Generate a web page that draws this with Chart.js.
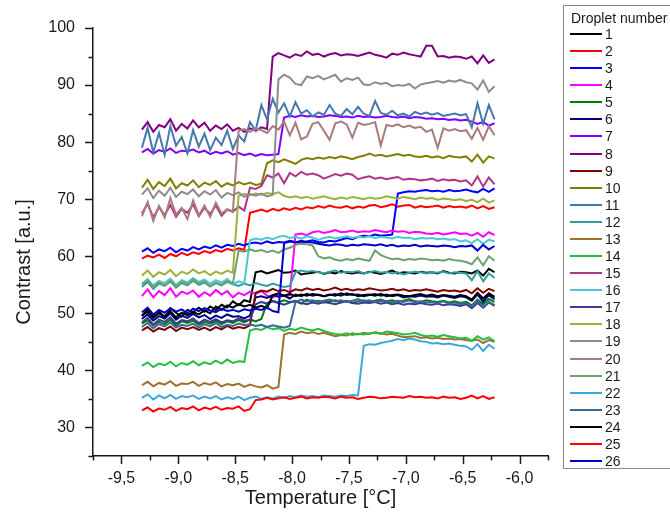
<!DOCTYPE html>
<html>
<head>
<meta charset="utf-8">
<script src="https://cdn.jsdelivr.net/npm/chart.js@4"></script>
<style>
  html, body { margin: 0; padding: 0; background: #fff; overflow: hidden; width: 670px; height: 522px; }
  #wrap { position: relative; width: 670px; height: 522px; overflow: hidden; }
  #c { position: absolute; left: 0; top: 0; }
  #legend { position: absolute; left: 563px; top: 5px; width: 140px; height: 462px; border: 1px solid #8a8a8a; background: #fff; font-family: "Liberation Sans", Arial, sans-serif; color: #1a1a1a; }
  #legend .ttl { position: absolute; left: 7px; top: 3px; font-size: 14px; line-height: 18px; white-space: nowrap; }
  #legend .row { position: absolute; left: 6px; height: 17px; display: flex; align-items: center; font-size: 14px; }
  #legend .sw { width: 32px; height: 2px; margin-right: 3px; }
</style>
</head>
<body>
<div id="wrap">
  <canvas id="c" width="670" height="522"></canvas>
  <div id="legend"></div>
</div>
<script>
// Temperature grid (°C)
const temps = [
  -9.32, -9.27, -9.22, -9.17, -9.12, -9.07, -9.02, -8.97, -8.92, -8.87,
  -8.82, -8.77, -8.72, -8.67, -8.62, -8.57, -8.52, -8.47, -8.42, -8.37,
  -8.32, -8.27, -8.22, -8.17, -8.12, -8.07, -8.02, -7.97, -7.92, -7.87,
  -7.82, -7.77, -7.72, -7.67, -7.62, -7.57, -7.52, -7.47, -7.42, -7.37,
  -7.32, -7.27, -7.22, -7.17, -7.12, -7.07, -7.02, -6.97, -6.92, -6.87,
  -6.82, -6.77, -6.72, -6.67, -6.62, -6.57, -6.52, -6.47, -6.42, -6.37,
  -6.32, -6.27, -6.22
];

const droplet1 = [
  49.5, 50.8, 49.6, 50.4, 49.2, 50.9, 50.1, 49.4, 50.6, 50.2,
  51.0, 50.3, 51.2, 50.6, 51.5, 51.0, 52.1, 51.4, 52.3, 52.0,
  57.2, 57.4, 57.0, 57.3, 57.6, 57.1, 57.2, 57.5, 56.8, 57.0,
  57.1, 57.3, 56.9, 57.2, 57.0, 57.4, 57.1, 57.0, 57.2, 57.0,
  57.3, 57.1, 56.9, 57.2, 57.5, 57.0, 57.2, 57.1, 57.0, 57.3,
  57.1, 57.2, 57.0, 57.4, 57.1, 57.0, 57.3, 57.2, 57.0, 57.5,
  56.6, 57.8, 57.2
];
const droplet2 = [
  59.6, 60.1, 59.8, 60.3, 59.7, 60.4, 60.0, 60.6, 60.2, 60.7,
  60.4, 60.9, 60.6, 61.1, 60.8, 61.3, 61.0, 61.4, 61.1, 67.6,
  67.9, 68.2, 67.8, 68.3, 68.0, 68.4, 68.1, 68.5, 68.2, 68.6,
  68.4, 68.8, 68.5, 68.9, 68.6, 68.5, 68.8, 68.4, 68.7, 68.5,
  68.9, 69.0, 68.6, 68.8, 69.1, 68.7, 68.9, 69.0, 68.5, 68.8,
  68.6, 68.7, 68.9, 68.5, 68.8, 68.6, 68.7, 68.5, 68.9, 68.4,
  68.8, 68.3, 68.6
];
const droplet3 = [
  60.8, 61.4, 60.6, 61.2, 60.9, 61.5, 60.7, 61.3, 61.0, 61.6,
  61.2, 61.7, 61.4, 61.9, 61.5, 62.0, 61.8, 62.2, 61.9, 62.3,
  62.4, 62.2, 62.6, 62.3, 62.5, 62.4, 62.7, 62.5, 62.3, 62.6,
  62.8, 62.5, 62.4, 62.7, 62.6, 62.9, 63.2, 63.0, 63.4, 63.6,
  63.5, 63.8, 63.6, 63.7, 63.8, 71.0, 71.2, 71.4, 71.3, 71.5,
  71.6, 71.4, 71.5, 71.3, 71.6, 71.4, 71.5, 71.7, 71.4, 71.2,
  71.8, 71.3, 71.9
];
const droplet4 = [
  53.0, 54.2, 52.8, 53.9, 53.2, 54.4, 52.9, 53.8, 53.4, 54.0,
  52.9, 53.7, 53.1, 54.1, 53.3, 53.9, 52.8, 53.6, 53.2, 53.8,
  53.4, 53.9, 53.1, 52.8, 53.3, 53.0, 53.2, 63.8, 64.0, 63.7,
  64.2, 64.4, 64.1, 64.3, 64.6, 64.2, 64.3, 64.5, 64.2, 64.4,
  64.3, 64.6, 64.4, 64.2, 64.5, 64.3, 64.4, 64.1, 64.3, 64.2,
  64.0, 63.9, 64.1, 63.8, 64.0, 64.2, 63.9, 64.0, 63.6, 64.1,
  63.4, 64.2, 63.7
];
const droplet5 = [
  48.2, 48.8, 47.9, 48.5, 48.1, 48.9, 47.8, 48.6, 48.3, 48.7,
  48.0, 48.5, 48.2, 48.7, 48.1, 48.6, 48.3, 48.8, 48.4, 48.9,
  48.6, 49.0, 51.8, 52.2, 51.9, 52.3, 52.0, 52.1, 51.7, 52.4,
  52.0, 52.2, 51.9, 52.1, 52.3, 52.0, 52.2, 51.8, 52.1, 52.3,
  52.0, 52.2, 52.4, 52.1, 52.3, 52.0, 52.2, 52.5, 52.1, 52.0,
  52.3, 52.1, 52.0, 52.2, 51.9, 52.1, 51.8, 52.0, 51.4, 52.4,
  51.6, 52.5, 52.0
];
const droplet6 = [
  49.0, 49.8, 48.7, 49.5, 49.1, 50.0, 48.9, 49.6, 49.2, 49.9,
  49.3, 49.7, 49.0, 49.6, 49.2, 49.8, 49.4, 49.5, 49.1, 49.6,
  52.8, 53.0, 52.7, 53.2, 52.9, 53.1, 52.6, 53.3, 53.0, 53.4,
  53.1, 53.3, 53.0, 53.2, 53.4, 53.1, 53.5, 53.2, 53.3, 53.0,
  53.2, 53.4, 53.1, 53.3, 53.0, 53.2, 52.8, 53.0, 52.9, 53.1,
  52.9, 53.0, 52.8, 53.1, 52.9, 52.7, 53.0, 52.8, 52.2, 53.3,
  52.0, 53.2, 52.5
];
const droplet7 = [
  78.2, 78.8, 78.0, 78.6, 78.3, 78.9, 78.1, 78.5, 78.4, 78.7,
  78.2, 78.5, 77.9, 78.3, 78.0, 78.4, 77.8, 78.1, 77.7, 78.0,
  77.6, 77.9, 77.7, 77.8, 77.9, 84.3, 84.6, 84.4, 84.7, 84.5,
  84.6, 84.4, 84.5, 84.7, 84.6, 84.4, 84.5, 84.3, 84.6, 84.4,
  84.5, 84.3, 84.4, 84.6, 84.4, 84.3, 84.5, 84.2, 84.4, 84.3,
  84.1, 84.2, 84.0, 84.1, 83.9, 84.0, 83.8, 83.9, 83.6, 83.2,
  83.5, 82.9, 83.3
];
const droplet8 = [
  82.2, 83.5, 81.8, 83.0, 82.6, 84.0, 82.0, 83.2, 82.4, 83.8,
  82.6, 83.4, 82.0, 82.9, 82.3, 83.1, 82.0, 82.5, 81.8, 82.4,
  82.0, 82.6, 82.3, 95.0, 95.6, 95.2, 94.8, 95.4, 95.1, 95.9,
  95.3, 95.5, 95.0, 95.4, 95.6, 95.2, 95.4, 95.3, 95.1, 95.4,
  95.7, 95.3, 95.1, 94.8, 95.5, 95.3, 95.7, 95.4, 95.2, 95.0,
  96.9, 96.9, 95.0, 95.1, 94.8, 95.0, 94.9, 94.6, 95.0, 93.8,
  95.2, 93.9, 94.5
];
const droplet9 = [
  47.0, 47.6, 46.8, 47.4, 47.1, 47.7, 46.9, 47.5, 47.2, 47.6,
  47.1, 47.5, 47.0, 47.6, 47.2, 47.8, 47.3, 47.6, 47.4, 47.9,
  53.6, 54.0, 53.8, 54.3, 53.9, 54.1, 53.7, 54.2, 54.0, 54.4,
  54.1, 54.3, 54.0, 54.2, 54.5, 54.1, 54.3, 54.0, 54.2, 54.1,
  54.4, 54.2, 54.0, 54.1, 54.3, 54.0, 54.2, 53.9, 54.1, 54.0,
  54.2, 54.0, 53.8, 54.1, 53.9, 54.0, 53.8, 54.1, 53.5, 54.4,
  53.6, 54.3, 53.9
];
const droplet10 = [
  72.0, 73.4, 71.8, 73.0, 72.3, 73.6, 71.9, 72.8, 72.4, 73.3,
  72.1, 72.9, 72.5, 73.2, 72.2, 72.8, 72.4, 73.0, 72.6, 72.9,
  72.5, 72.7, 76.3, 76.8, 76.5, 77.0, 76.6, 76.2, 76.9, 77.2,
  77.0, 77.3, 77.1, 77.4, 77.2, 77.5, 77.3, 77.0, 77.4, 77.6,
  78.0, 77.6, 77.8, 77.5, 77.7, 77.9, 77.6, 77.8, 77.5, 77.4,
  77.6, 77.3, 77.5, 77.2, 77.6, 77.4, 77.3, 77.5, 76.6, 77.8,
  76.4, 77.5, 77.1
];
const droplet11 = [
  79.0, 82.5, 78.2, 81.6, 77.8, 82.8, 79.4, 80.9, 78.0, 82.1,
  79.2, 81.5, 78.6, 80.8, 79.5, 82.0, 78.8, 81.2, 80.1, 83.5,
  82.0, 86.5, 84.0, 87.6, 85.2, 86.8, 84.5, 87.0, 85.0, 85.6,
  84.5, 85.2, 84.8, 86.5, 85.0, 84.6, 85.8, 84.9, 86.2, 85.0,
  84.6, 87.2, 85.1, 84.8, 85.5, 84.7, 85.0, 84.5, 85.3, 84.9,
  85.2, 84.8, 85.1, 84.6, 84.8, 85.0, 84.7, 84.9, 82.6, 86.8,
  83.2, 86.5, 84.0
];
const droplet12 = [
  54.6, 55.5, 54.3, 55.2, 54.8, 55.6, 54.5, 55.3, 54.9, 55.7,
  55.0, 55.4, 54.7, 55.3, 54.9, 55.5, 55.1, 54.8, 55.2, 54.9,
  55.3, 55.0, 54.8, 55.2, 54.9, 54.6, 54.8, 57.2, 57.5, 57.3,
  57.4, 57.2, 57.0, 57.3, 57.5, 57.1, 57.3, 57.2, 57.4, 57.0,
  57.2, 57.4, 57.1, 57.3, 57.0, 57.2, 56.8, 57.1, 57.3, 57.2,
  57.0, 57.2, 57.1, 57.3, 57.0, 57.2, 57.1, 57.0, 55.8, 57.4,
  55.6, 57.0, 56.2
];
const droplet13 = [
  37.4, 38.0, 37.2, 37.8, 37.5, 38.1, 37.3, 37.7, 37.6, 38.0,
  37.3, 37.8, 37.5, 37.9, 37.2, 37.6, 37.4, 37.7, 37.1, 37.5,
  37.2, 37.0, 37.4, 36.8, 37.1, 46.3, 46.6, 46.4, 46.8, 46.5,
  46.7, 46.4, 46.6, 46.3, 46.0, 46.2, 46.1, 46.5, 46.3, 46.6,
  46.4, 46.7, 46.5, 46.3, 46.4, 46.1, 45.8, 45.9, 46.0, 45.7,
  45.8, 45.6, 45.7, 45.5, 45.6, 45.4, 45.5, 45.3, 45.2, 45.4,
  44.8, 45.3, 45.0
];
const droplet14 = [
  40.8, 41.4, 40.6, 41.2, 40.9, 41.5, 40.7, 41.3, 41.0, 41.6,
  40.9, 41.4, 41.1, 41.7, 41.2, 41.9, 41.3, 41.6, 41.5, 47.0,
  47.3, 47.1, 47.6, 47.2, 47.4, 46.9, 47.3, 47.1, 47.5, 47.2,
  47.0, 47.3, 46.9, 46.6, 46.4, 46.3, 46.5, 46.2, 46.4, 46.3,
  46.5, 46.6, 46.4, 46.8, 46.7, 46.5, 46.3, 46.4, 46.6, 46.2,
  46.0, 46.1, 45.9, 46.2, 46.0, 45.8, 45.6, 45.7, 45.2, 46.0,
  45.4, 45.8, 45.1
];
const droplet15 = [
  67.5, 69.2, 66.8, 68.6, 67.2, 69.0, 66.9, 68.3, 67.6, 69.1,
  67.0, 68.5, 67.4, 68.9, 67.1, 68.2, 67.8, 68.7, 68.0, 72.0,
  71.8, 72.3, 74.2, 73.8, 74.5, 72.8, 74.6, 74.0, 74.8, 74.3,
  74.5, 74.2, 73.6, 74.0, 74.4, 74.1, 74.5, 74.3, 73.5, 73.8,
  74.0, 73.6, 73.8, 73.5, 73.7, 73.9, 73.4, 73.6, 73.5, 73.3,
  73.4, 73.6, 73.2, 73.5, 73.3, 73.4, 73.1, 73.3, 72.4, 74.0,
  72.2, 73.8, 72.6
];
const droplet16 = [
  55.2, 56.0, 54.9, 55.7, 55.3, 56.1, 55.0, 55.8, 55.4, 56.2,
  55.5, 55.9, 55.2, 55.8, 55.4, 56.0, 55.1, 55.6, 55.3, 62.8,
  63.1, 62.9, 63.3, 63.0, 63.4, 63.6, 63.2, 63.4, 63.1, 63.5,
  63.3, 62.9, 63.2, 63.4, 63.1, 63.3, 63.5, 63.2, 63.4, 63.3,
  63.5, 63.2, 63.4, 63.3, 63.1, 63.4, 63.2, 63.3, 63.0, 63.2,
  63.1, 63.2, 63.0, 63.1, 62.9, 63.0, 62.6, 62.8, 62.3, 63.0,
  62.2, 62.9, 62.6
];
const droplet17 = [
  48.4, 49.2, 48.0, 48.9, 48.5, 49.3, 48.2, 48.8, 48.6, 49.1,
  48.3, 48.9, 48.5, 49.0, 48.4, 48.8, 48.6, 49.1, 48.7, 48.9,
  51.6, 52.0, 51.7, 52.1, 51.8, 51.5, 51.9, 52.2, 51.8, 51.6,
  51.9, 51.7, 52.0, 51.8, 51.6, 51.9, 52.1, 51.8, 51.7, 51.9,
  51.8, 52.0, 51.7, 51.9, 51.6, 51.8, 51.5, 51.7, 51.6, 51.8,
  51.6, 51.5, 51.7, 51.4, 51.6, 51.5, 51.3, 51.6, 50.9, 51.8,
  51.0, 51.9, 51.3
];
const droplet18 = [
  56.6, 57.5, 56.4, 57.2, 56.8, 57.6, 56.5, 57.3, 56.9, 57.7,
  57.0, 57.4, 56.7, 57.3, 56.9, 57.5, 57.1, 70.6, 70.9, 70.7,
  71.0, 70.8, 71.1, 70.9, 71.2, 70.6, 70.3, 70.5, 70.2, 70.4,
  70.1, 70.3, 70.5, 70.2, 70.0, 70.3, 70.1, 70.4, 70.2, 70.0,
  70.3, 70.1, 70.2, 70.5, 70.3, 70.1, 70.4, 70.2, 70.0, 70.3,
  70.1, 70.2, 69.9, 70.1, 70.0, 69.8, 70.0, 69.7, 69.9, 69.5,
  70.1, 69.4, 69.8
];
const droplet19 = [
  70.8, 71.9, 70.2, 71.5, 70.6, 72.0, 70.4, 71.3, 70.9, 71.7,
  70.5, 71.4, 70.8, 71.6, 70.3, 71.1, 70.7, 71.2, 70.4, 70.9,
  70.6, 71.0, 70.5, 70.8, 91.0, 91.8, 91.3, 90.2, 90.0, 91.5,
  91.2, 91.6, 91.0, 91.4, 91.8, 90.6, 91.2, 90.9, 91.3, 90.1,
  90.0, 90.5, 90.2, 90.4, 89.8, 90.0, 89.9, 90.2, 89.4, 90.1,
  90.3, 90.5, 90.7, 90.4, 90.8, 90.6, 90.9, 90.5, 90.3, 89.2,
  90.8, 88.8, 89.8
];
const droplet20 = [
  67.0, 69.5, 66.2, 68.8, 66.8, 70.2, 67.3, 68.5, 66.5, 69.8,
  67.2, 68.9, 66.9, 69.4, 67.5, 68.2, 67.9, 82.0, 82.3, 81.8,
  82.4, 82.1, 81.6, 82.8, 82.2, 83.6, 81.2, 83.4, 80.5, 81.0,
  83.2, 83.5, 82.0, 80.4, 83.3, 83.6, 83.1, 80.8, 83.4, 83.0,
  83.2, 83.5, 79.4, 83.0, 82.8, 83.1, 82.6, 82.9, 82.5, 82.7,
  81.8, 82.2, 79.0, 82.4, 82.0, 82.3, 81.9, 82.1, 80.6, 82.5,
  80.4, 82.8, 81.2
];
const droplet21 = [
  55.0, 55.8, 54.6, 55.4, 54.9, 55.7, 54.7, 55.5, 55.1, 55.9,
  55.2, 55.6, 54.8, 55.4, 55.0, 55.7, 55.3, 61.0, 60.8, 61.2,
  60.9, 61.1, 60.7, 61.0, 60.6, 61.2, 61.5, 62.0, 62.2, 62.1,
  61.9, 60.0, 59.6, 59.8, 59.4, 59.2, 59.5, 59.3, 59.6, 59.4,
  59.2, 61.0, 60.2, 59.8, 59.5, 59.6, 59.3, 59.5, 59.4, 59.6,
  59.5, 59.3, 59.4, 59.2, 59.5, 59.3, 59.2, 59.0, 58.6, 59.8,
  58.4, 60.0, 59.2
];
const droplet22 = [
  35.2, 35.8, 34.9, 35.6, 35.1, 35.7, 35.0, 35.5, 35.3, 35.6,
  35.0, 35.4, 35.1, 35.5, 34.9, 35.3, 35.0, 35.4, 34.8, 35.2,
  35.4, 35.0, 35.3, 35.1, 35.4, 35.2, 35.5, 35.3, 35.6, 35.4,
  35.5, 35.3, 35.6, 35.5, 35.4, 35.6, 35.5, 35.7, 35.6, 44.3,
  44.6, 44.5, 44.8, 45.0, 45.2, 45.5, 45.3, 45.6, 45.4, 45.1,
  45.0, 44.7, 44.8, 44.6, 44.7, 44.5, 44.3, 44.2, 43.6, 44.6,
  43.4, 44.5, 43.8
];
const droplet23 = [
  47.6, 48.3, 47.4, 48.1, 47.7, 48.4, 47.5, 48.0, 47.8, 48.2,
  47.5, 48.1, 47.7, 48.3, 47.6, 48.0, 47.8, 48.2, 47.9, 48.1,
  47.8, 48.0, 47.6, 47.9, 47.7, 47.5, 47.8, 52.0, 52.4, 52.1,
  52.3, 52.0, 52.2, 52.4, 52.1, 52.3, 52.0, 52.2, 52.5, 52.1,
  52.3, 52.0, 52.2, 52.1, 51.9, 52.2, 52.0, 52.3, 51.9, 52.1,
  51.9, 52.0, 51.8, 52.1, 51.7, 51.9, 51.6, 51.8, 51.2, 52.2,
  51.1, 52.0, 51.5
];
const droplet24 = [
  49.6, 50.3, 49.2, 50.0, 49.5, 50.4, 49.3, 50.1, 49.7, 50.2,
  49.8, 50.5, 50.0, 51.2, 50.6, 51.4, 51.0, 51.6, 51.2, 51.5,
  51.0, 51.3, 50.9, 53.2, 53.5, 53.1, 53.4, 53.0, 53.3, 53.1,
  53.4, 53.2, 53.0, 53.3, 53.1, 53.5, 53.2, 53.4, 53.0, 53.2,
  53.3, 53.1, 53.4, 53.0, 53.2, 53.3, 53.1, 53.0, 53.2, 53.4,
  53.1, 53.3, 53.0, 53.2, 53.1, 52.9, 53.2, 53.0, 52.4, 53.6,
  52.6, 53.5, 52.9
];
const droplet25 = [
  33.0, 33.5, 32.8, 33.3, 33.1, 33.6, 32.9, 33.4, 33.2, 33.7,
  33.0, 33.5, 33.2, 33.6, 33.1, 33.4, 33.3, 33.7, 32.9, 33.2,
  34.8, 34.9, 35.2, 34.9, 35.1, 35.3, 35.0, 35.2, 35.4, 35.1,
  35.3, 35.2, 35.4, 35.3, 35.1, 35.4, 35.2, 35.3, 35.0, 35.2,
  35.4, 35.3, 35.1, 35.2, 35.4, 35.3, 35.2, 35.5, 35.3, 35.4,
  35.2, 35.3, 35.1, 35.4, 35.2, 35.3, 35.0, 35.2, 35.6, 35.1,
  35.5, 35.0, 35.3
];
const droplet26 = [
  50.2, 51.0, 49.8, 50.6, 50.1, 50.9, 50.3, 50.7, 50.0, 50.8,
  50.4, 50.9, 50.5, 50.2, 50.8, 50.4, 50.6, 50.3, 50.7, 50.5,
  50.8, 50.6, 51.0, 50.4, 50.2, 62.3, 62.6, 62.4, 62.7, 62.5,
  62.4, 62.2, 62.0, 61.9, 62.1, 62.0, 61.8, 62.0, 61.9, 62.1,
  62.0, 61.9, 62.1, 61.8, 62.0, 61.7, 61.9, 61.8, 62.0, 61.7,
  61.9, 61.8, 61.7, 61.9, 61.8, 61.6, 61.8, 61.7, 61.9, 61.0,
  62.0, 61.2, 61.8
];

const seriesNames = ['1','2','3','4','5','6','7','8','9','10','11','12','13',
  '14','15','16','17','18','19','20','21','22','23','24','25','26'];
const seriesColors = [
  '#000000', '#FF0000', '#0000FF', '#FF00FF', '#008000', '#000080', '#8000FF',
  '#800080', '#800000', '#808000', '#4479AD', '#2E9E9E', '#A0702E', '#22C040',
  '#B0358A', '#4CC8D4', '#3B3B96', '#9BB23C', '#8C8C8C', '#A87C7C', '#6FA06F',
  '#3DA8D8', '#3A6898', '#000000', '#FF0000', '#0000CC'
];
const seriesValues = [droplet1, droplet2, droplet3, droplet4, droplet5, droplet6,
  droplet7, droplet8, droplet9, droplet10, droplet11, droplet12, droplet13,
  droplet14, droplet15, droplet16, droplet17, droplet18, droplet19, droplet20,
  droplet21, droplet22, droplet23, droplet24, droplet25, droplet26];

const xTitle = 'Temperature [°C]';
const yTitle = 'Contrast [a.u.]';
const legendTitle = 'Droplet number';

const FONT = '"Liberation Sans", Arial, sans-serif';
const TEXT = '#1a1a1a';

const datasets = seriesValues.map((vals, k) => ({
  label: seriesNames[k],
  data: temps.map((t, i) => ({ x: t, y: vals[i] })),
  borderColor: seriesColors[k],
  backgroundColor: seriesColors[k],
  borderWidth: 2,
  pointRadius: 0,
  tension: 0,
  fill: false,
  order: seriesValues.length - k
}));

const isMajorX = v => Math.abs(v * 2 - Math.round(v * 2)) < 1e-6;
const isMajorY = v => Math.abs(v / 10 - Math.round(v / 10)) < 1e-6;

const tickPlugin = {
  id: 'axisTicks',
  afterDraw(chart) {
    const ctx = chart.ctx;
    const xs = chart.scales.x, ys = chart.scales.y;
    const area = chart.chartArea;
    ctx.save();
    ctx.strokeStyle = '#1a1a1a';
    ctx.lineWidth = 1.5;
    xs.ticks.forEach(t => {
      const px = Math.round(xs.getPixelForValue(t.value)) + 0.5;
      const len = isMajorX(t.value) ? 8 : 4.5;
      ctx.beginPath();
      ctx.moveTo(px, area.bottom);
      ctx.lineTo(px, area.bottom + len);
      ctx.stroke();
    });
    ys.ticks.forEach(t => {
      const py = Math.round(ys.getPixelForValue(t.value)) + 0.5;
      const len = isMajorY(t.value) ? 8 : 4.5;
      ctx.beginPath();
      ctx.moveTo(area.left, py);
      ctx.lineTo(area.left - len, py);
      ctx.stroke();
    });
    // rotated y-axis title
    ctx.fillStyle = TEXT;
    ctx.font = '20px ' + FONT;
    ctx.textAlign = 'center';
    ctx.textBaseline = 'middle';
    ctx.translate(24, 262);
    ctx.rotate(-Math.PI / 2);
    ctx.fillText(yTitle, 0, 0);
    ctx.restore();
  }
};

new Chart(document.getElementById('c'), {
  type: 'line',
  data: { datasets },
  options: {
    responsive: false,
    animation: false,
    events: [],
    layout: { padding: { top: 28, right: 122, left: 0, bottom: 0 } },
    plugins: { legend: { display: false }, tooltip: { enabled: false } },
    scales: {
      x: {
        type: 'linear',
        min: -9.75, max: -5.75,
        grid: { display: false, drawTicks: false },
        border: { display: true, color: '#1a1a1a', width: 1.5 },
        ticks: {
          stepSize: 0.25, autoSkip: false, maxRotation: 0, padding: 13,
          color: TEXT, font: { family: FONT, size: 16 },
          callback: v => isMajorX(v) ? v.toFixed(1).replace('.', ',') : ''
        },
        title: { display: true, text: xTitle, color: TEXT, font: { family: FONT, size: 20 }, padding: { top: 0, bottom: 12 } },
        afterFit: s => { s.height = 66; }
      },
      y: {
        type: 'linear',
        min: 25, max: 100,
        grid: { display: false, drawTicks: false },
        border: { display: true, color: '#1a1a1a', width: 1.5 },
        ticks: {
          stepSize: 5, autoSkip: false, padding: 18,
          color: TEXT, font: { family: FONT, size: 16 },
          callback: v => isMajorY(v) ? String(v) : ''
        },
        afterFit: s => { s.width = 93; }
      }
    }
  },
  plugins: [tickPlugin]
});

// HTML legend built from series names and colours
const leg = document.getElementById('legend');
const ttl = document.createElement('div');
ttl.className = 'ttl';
ttl.textContent = legendTitle;
leg.appendChild(ttl);
seriesNames.forEach((name, k) => {
  const row = document.createElement('div');
  row.className = 'row';
  row.style.top = (19.5 + k * 17.08) + 'px';
  const sw = document.createElement('span');
  sw.className = 'sw';
  sw.style.background = seriesColors[k];
  const lab = document.createElement('span');
  lab.textContent = name;
  row.appendChild(sw);
  row.appendChild(lab);
  leg.appendChild(row);
});
</script>
</body>
</html>
